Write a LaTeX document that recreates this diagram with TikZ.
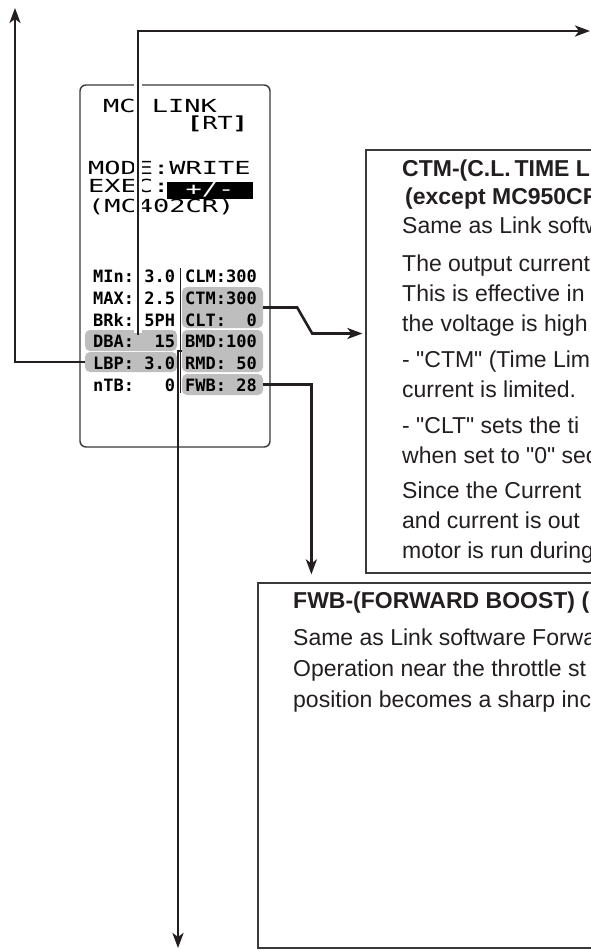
\documentclass[tikz,border=0pt]{standalone}
\usepackage{fontspec}
\setmainfont{Liberation Sans}[Ligatures=TeXOff]
\newfontfamily\lcdfont{DejaVu Sans Mono}
\usetikzlibrary{arrows.meta}
\definecolor{ink}{HTML}{231F20}
\definecolor{lcdgray}{HTML}{BEBEBE}
\definecolor{framec}{HTML}{3A3A3A}
\begin{document}
\begin{tikzpicture}[x=1pt,y=-1pt,
  conn/.style={draw=ink, line width=2.6pt},
  arr/.style={conn, -{Stealth[length=15pt,width=11pt,inset=4pt]}},
  halo/.style={draw=white, line width=8pt},
  gbox/.style={fill=lcdgray, rounded corners=5pt, inner sep=0pt},
  tbox/.style={draw=framec, line width=1.2pt, inner sep=0pt},
  body/.style={anchor=base west, inner sep=0pt, text=ink, font=\fontsize{23}{27}\selectfont},
  bodyb/.style={anchor=base west, inner sep=0pt, text=ink, font=\fontsize{23}{27}\selectfont\bfseries},
  lcd/.style={anchor=base west, inner sep=0pt, text=black, font=\lcdfont\bfseries\fontsize{17}{17}\selectfont},
  lcdtop/.style={anchor=base west, inner sep=0pt, text=black, font=\lcdfont\fontsize{18}{18}\selectfont}
]
\useasboundingbox (0,0) rectangle (591,951);
\clip (0,0) rectangle (591,951);
\fill[white] (0,0) rectangle (591,951);

% text boxes
\node[tbox, minimum width=334pt, minimum height=423pt] (ctmtext) at (533,361.5) {};
\node[tbox, minimum width=442pt, minimum height=365pt] (fwbtext) at (479,765.5) {};

% CTM text
\node[bodyb] (c1) at (402,176) {CTM-(C.L.\,TIME L};
\node[bodyb] (c2) at (405,204) {(except MC950CR};
\node[body] (c3) at (402,233) {Same as Link softw};
\node[body] (c4) at (402,271) {The output current};
\node[body] (c5) at (402,301) {This is effective in};
\node[body] (c6) at (402,331) {the voltage is high};
\node[body] (c7) at (402,367) {- "CTM" (Time Lim};
\node[body] (c8) at (402,397) {current is limited.};
\node[body] (c9) at (402,433) {- "CLT" sets the ti};
\node[body] (c10) at (402,463) {when set to "0" sec};
\node[body] (c11) at (402,498) {Since the Current};
\node[body] (c12) at (402,528) {and current is out};
\node[body] (c13) at (402,558) {motor is run during};

% FWB text
\node[bodyb] (f1) at (293,608) {FWB-(FORWARD BOOST) (};
\node[body] (f2) at (293,645) {Same as Link software Forwa};
\node[body] (f3) at (293,676) {Operation near the throttle st};
\node[body] (f4) at (293,707) {position becomes a sharp inc};

% screen
\node[draw=framec, line width=1.4pt, rounded corners=6pt, minimum width=190pt, minimum height=362pt, inner sep=0pt] (screen) at (175,266) {};

% gray highlight boxes
\node[gbox, minimum width=92pt, minimum height=21pt] (dba) at (131,340.5) {};
\node[gbox, minimum width=92pt, minimum height=20pt] (lbp) at (131,362) {};
\node[gbox, minimum width=81pt, minimum height=41pt] (ctm) at (222.5,307.5) {};
\node[gbox, minimum width=81pt, minimum height=42pt] (bmd) at (222.5,351) {};
\node[gbox, minimum width=81pt, minimum height=21pt] (fwb) at (222.5,384.5) {};

% LCD top text
\node[lcdtop] (s1) at (103,112.5) {\scalebox{1.5}[1]{MC LINK}};
\node[lcdtop] (s2) at (187,129) {\scalebox{1.4}[1]{{\bfseries[}RT{\bfseries]}}};
\node[lcdtop] (s3) at (88,174.5) {\scalebox{1.5}[1]{MODE:WRITE}};
\node[lcdtop] (s4) at (88,192.5) {\scalebox{1.5}[1]{EXEC:}};
\node[fill=black, text=white, inner sep=0pt, minimum width=86pt, minimum height=17pt, font=\lcdfont\fontsize{18}{18}\selectfont] (execbox) at (210,190) {\scalebox{1.5}[1]{+/-}};
\node[lcdtop] (s5) at (88,212) {\scalebox{1.5}[1]{(MC402CR)}};

% LCD values
\node[lcd] (l1) at (93,282) {MIn:\ 3.0};
\node[lcd] (l2) at (93,304) {MAX:\ 2.5};
\node[lcd] (l3) at (93,326) {BRk:\ 5PH};
\node[lcd] (l4) at (93,347) {DBA:\ \ 15};
\node[lcd] (l5) at (93,369) {LBP:\ 3.0};
\node[lcd] (l6) at (93,391) {nTB:\ \ \ 0};
\node[lcd] (r1) at (185,282) {CLM:300};
\node[lcd] (r2) at (185,304) {CTM:300};
\node[lcd] (r3) at (185,326) {CLT:\ \ 0};
\node[lcd] (r4) at (185,347) {BMD:100};
\node[lcd] (r5) at (185,369) {RMD:\ 50};
\node[lcd] (r6) at (185,391) {FWB:\ 28};

% column separator
\draw[ink, line width=1pt] (180.5,268) -- (180.5,393);

% connectors
\coordinate (topleft) at (15,8);
\coordinate (topright) at (590,31);
\coordinate (bottom) at (178,948);
\coordinate (k1) at ([xshift=49pt,yshift=-26pt]ctm.east);

\draw[halo] ([xshift=53pt,yshift=-3pt]dba.north west) |- (topright);
\draw[arr] ([xshift=53pt,yshift=-5pt]dba.north west) |- (topright);
\draw[arr] (lbp.west) -| (topleft);
\draw[arr, shorten >=3pt] (ctm.east) -- ++(34,0) -- (k1) -- (k1 -| ctmtext.west);
\draw[arr, shorten >=8pt] (fwb.east) -| ([xshift=54pt]fwbtext.north west);
\draw[arr] (bmd.west) -| (bottom);
\end{tikzpicture}
\end{document}
